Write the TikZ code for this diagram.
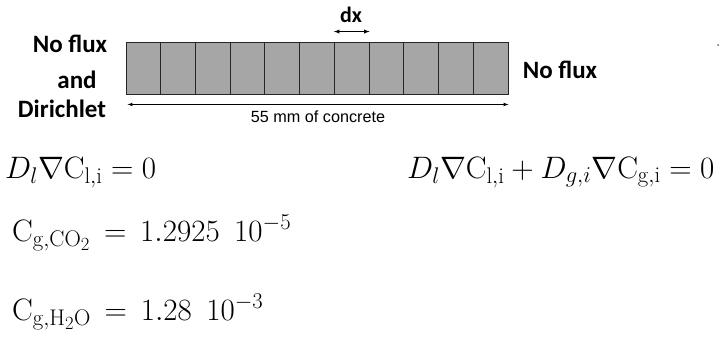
\RequirePackage{fix-cm}
\documentclass[tikz,border=0pt]{standalone}
\usepackage{amsmath,amssymb}
\usepackage{fontspec}
\newfontfamily\calib{Carlito}
\newfontfamily\arialf{Liberation Sans}
\usepackage{tikz}
\usetikzlibrary{arrows.meta,calc,positioning}
\usepackage{xcolor}
\definecolor{grigio}{HTML}{A6A6A6}
\renewcommand\defaultscriptratio{.73}
\renewcommand\defaultscriptscriptratio{.6}

\tikzset{
  cella/.style={draw=black!85, fill=grigio, line width=0.9pt, minimum width=34.73pt, minimum height=52pt, inner sep=0pt},
  etich/.style={font=\calib\bfseries\fontsize{25}{27}\selectfont, inner sep=0pt},
  eqn/.style={font=\fontsize{31}{33}\selectfont, anchor=west, inner sep=0pt}
}

\begin{document}
\begin{tikzpicture}[x=1pt, y=-1pt]
\useasboundingbox (0,0) rectangle (721,338);
% barra di calcestruzzo divisa in celle
\foreach \i in {0,...,10}
  \node[cella] (c\i) at ({126+34.73*(\i+0.5)},68) {};
% passo dx
\coordinate (dxa) at ($(c6.north west)+(0,-10)$);
\coordinate (dxb) at ($(c6.north east)+(0,-10)$);
\draw[latex-latex, line width=0.9pt] (dxa) -- (dxb);
\node[font=\calib\bfseries\fontsize{22}{24}\selectfont, inner sep=0pt] (dx) at (351,15) {dx};
% spessore
\coordinate (sa) at ($(c0.south west)+(2,10)$);
\coordinate (sb) at ($(c10.south east)+(0,10)$);
\draw[latex-latex, line width=0.7pt] (sa) -- (sb);
\node[font=\arialf\fontsize{16.2}{18}\selectfont, inner sep=0pt] (spess) at (318,117) {55 mm of concrete};
% condizioni al contorno
\node[etich] (nf1) at (70,44) {No flux};
\node[etich] (and) at (77,80) {and};
\node[etich] (dir) at (62,109) {Dirichlet};
\node[etich] (nf2) at (560,70) {No flux};
\fill[black!60] (718,45) circle (1pt);
% equazioni
\node[eqn] (eq1) at (5,172) {$D_l\nabla\mathrm{C}_{\mathrm{l,i}} = 0$};
\node[eqn] (eq2) at (407,172) {$D_l\nabla\mathrm{C}_{\mathrm{l,i}} + D_{g,i}\nabla\mathrm{C}_{\mathrm{g,i}} = 0$};
\node[eqn] (eq3) at (12,233) {$\mathrm{C}_{\mathrm{g,CO_2}} \,=\, 1.2925\ \,10^{-5}$};
\node[eqn] (eq4) at (12,312) {$\mathrm{C}_{\mathrm{g,H_2O}} \,=\, 1.28\ \,10^{-3}$};
\end{tikzpicture}
\end{document}
